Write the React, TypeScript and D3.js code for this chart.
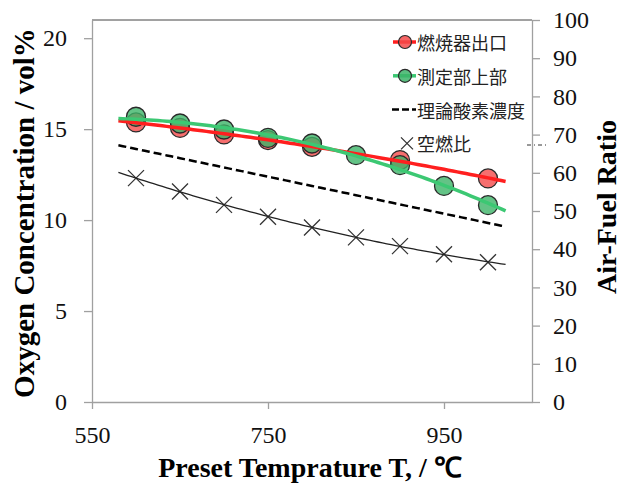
import * as d3 from 'd3';
import React, { useEffect, useRef } from 'react';

// preset temperature, deg C
const temps = [600, 650, 700, 750, 800, 850, 900, 950, 1000];
// oxygen concentration, vol%
const burnerOutlet = [15.37, 15.07, 14.71, 14.4, 14.03, null, 13.3, null, 12.29];
const measureTop = [15.68, 15.31, 14.98, 14.52, 14.21, 13.57, 13.02, 11.88, 10.82];
const theoreticalO2 = [13.9, 13.4, 12.9, 12.4, 11.9, 11.35, 10.85, 10.35, 9.85];
// air-fuel ratio (right axis)
const airFuel = [58.6, 55.1, 51.6, 48.5, 45.7, 43.1, 40.8, 38.7, 36.6];

const xTicks = [550, 750, 950];
const yTicks = [0, 5, 10, 15, 20];
const y2Ticks = [0, 10, 20, 30, 40, 50, 60, 70, 80, 90, 100];

const legendNames = ['燃焼器出口', '測定部上部', '理論酸素濃度', '空燃比'];

const W = 622, H = 483;
const margin = { top: 20, right: 90, bottom: 81, left: 92 };

// least squares polynomial (trendline like excel)
function polyfit(xs: number[], ys: number[], deg: number) {
  const n = deg + 1;
  const A = Array.from({ length: n }, () => new Array(n + 1).fill(0));
  xs.forEach((x0, k) => {
    const x = (x0 - 800) / 100;
    for (let i = 0; i < n; i++) {
      for (let j = 0; j < n; j++) A[i][j] += Math.pow(x, i + j);
      A[i][n] += ys[k] * Math.pow(x, i);
    }
  });
  for (let i = 0; i < n; i++) {
    let p = i;
    for (let r = i + 1; r < n; r++) if (Math.abs(A[r][i]) > Math.abs(A[p][i])) p = r;
    [A[i], A[p]] = [A[p], A[i]];
    for (let r = 0; r < n; r++) {
      if (r === i) continue;
      const f = A[r][i] / A[i][i];
      for (let c = i; c <= n; c++) A[r][c] -= f * A[i][c];
    }
  }
  const coef = A.map((row, i) => row[n] / row[i]);
  return (x0: number) => {
    const x = (x0 - 800) / 100;
    return coef.reduce((s, c, i) => s + c * Math.pow(x, i), 0);
  };
}

function pairs(vals: (number | null)[]) {
  return temps.map((t, i) => [t, vals[i]]).filter(d => d[1] != null) as [number, number][];
}

export default function App() {
  const ref = useRef<SVGSVGElement>(null);

  useEffect(() => {
    const svg = d3.select(ref.current);
    svg.selectAll('*').remove();

    const x = d3.scaleLinear().domain([550, 1050]).range([margin.left, W - margin.right]);
    const y = d3.scaleLinear().domain([0, 21]).range([H - margin.bottom, margin.top]);
    const y2 = d3.scaleLinear().domain([0, 100]).range([H - margin.bottom, margin.top]);

    const serif = '"Liberation Serif", "Times New Roman", serif';
    const axisCol = '#a0a0a0';

    // top border
    svg.append('line')
      .attr('x1', x(550)).attr('x2', x(1050))
      .attr('y1', margin.top).attr('y2', margin.top)
      .attr('stroke', '#444').attr('stroke-width', 1);

    const styleAxis = (g: any) => {
      g.selectAll('path, line').attr('stroke', axisCol).attr('stroke-width', 1.3);
      g.selectAll('text').attr('fill', '#111').style('font-family', serif).style('font-size', '24px');
    };

    svg.append('g')
      .attr('transform', `translate(0,${H - margin.bottom})`)
      .call(d3.axisBottom(x).tickValues(xTicks).tickSize(7).tickSizeOuter(0).tickPadding(17).tickFormat(d3.format('d')))
      .call(styleAxis);

    svg.append('g')
      .attr('transform', `translate(${margin.left},0)`)
      .call(d3.axisLeft(y).tickValues(yTicks).tickSize(8).tickSizeOuter(0).tickPadding(17))
      .call(styleAxis);

    svg.append('g')
      .attr('transform', `translate(${W - margin.right},0)`)
      .call(d3.axisRight(y2).tickValues(y2Ticks).tickSize(8).tickSizeOuter(0).tickPadding(13))
      .call(styleAxis);

    // axis titles
    svg.append('text')
      .attr('transform', 'translate(24,213) rotate(-90)')
      .attr('text-anchor', 'middle').attr('dominant-baseline', 'central')
      .style('font-family', serif).style('font-size', '29px').style('font-weight', 'bold')
      .text('Oxygen Concentration / vol%');
    svg.append('text')
      .attr('transform', 'translate(606,207) rotate(-90)')
      .attr('text-anchor', 'middle').attr('dominant-baseline', 'central')
      .style('font-family', serif).style('font-size', '28px').style('font-weight', 'bold')
      .text('Air-Fuel Ratio');
    svg.append('text')
      .attr('x', 310).attr('y', 477)
      .attr('text-anchor', 'middle')
      .style('font-family', serif).style('font-size', '28px').style('font-weight', 'bold')
      .text('Preset Temprature T, / ℃');

    const red = '#ff1f1f', green = '#3cc873';
    const trendX = d3.range(580, 1021, 5);

    // markers
    const circles = (data: [number, number][], fill: string) => {
      svg.append('g').selectAll('circle').data(data).enter().append('circle')
        .attr('cx', d => x(d[0])).attr('cy', d => y(d[1])).attr('r', 9.5)
        .attr('fill', fill).attr('fill-opacity', 0.8)
        .attr('stroke', '#2a2a2a').attr('stroke-width', 1.3);
    };
    circles(pairs(burnerOutlet), '#f44a4a');
    circles(pairs(measureTop), '#3cb468');

    const xs = pairs(airFuel);
    const xg = svg.append('g').selectAll('g').data(xs).enter().append('g')
      .attr('transform', d => `translate(${x(d[0])},${y2(d[1])})`);
    xg.append('path').attr('d', 'M-8,-8L8,8M-8,8L8,-8')
      .attr('stroke', '#333').attr('stroke-width', 1.3);

    // trendlines
    const trend = (data: [number, number][], deg: number, sc: any, col: string, w: number, dash?: string) => {
      const f = polyfit(data.map(d => d[0]), data.map(d => d[1]), deg);
      const line = d3.line<number>().x(t => x(t)).y(t => sc(f(t)));
      svg.append('path').datum(trendX).attr('d', line)
        .attr('fill', 'none').attr('stroke', col).attr('stroke-width', w)
        .attr('stroke-dasharray', dash || null);
    };
    trend(pairs(burnerOutlet), 2, y, red, 3.5);
    trend(pairs(measureTop), 2, y, green, 3.5);
    trend(pairs(theoreticalO2), 1, y, '#000', 2.5, '8,4');
    trend(xs, 2, y2, '#222', 1.3);

    // stray dash-dot mark near right axis
    svg.append('line')
      .attr('x1', 527).attr('x2', 547).attr('y1', 145).attr('y2', 145)
      .attr('stroke', '#333').attr('stroke-width', 1).attr('stroke-dasharray', '4,3,1,3');

    // legend
    const lg = svg.append('g');
    const ly = (i: number) => 42 + i * 33.8;
    legendNames.forEach((name, i) => {
      const g = lg.append('g').attr('transform', `translate(0,${ly(i)})`);
      if (i === 0 || i === 1) {
        g.append('line').attr('x1', 393).attr('x2', 416).attr('stroke', i === 0 ? red : green).attr('stroke-width', 3.5);
        g.append('circle').attr('cx', 405).attr('r', 6.5)
          .attr('fill', i === 0 ? '#f44a4a' : '#3cb468').attr('fill-opacity', 0.85)
          .attr('stroke', '#2a2a2a').attr('stroke-width', 1.2);
      } else if (i === 2) {
        g.append('line').attr('x1', 392).attr('x2', 416).attr('stroke', '#000').attr('stroke-width', 2.5)
          .attr('stroke-dasharray', '7,3');
      } else {
        g.append('path').attr('d', 'M401,-6L413,6M401,6L413,-6').attr('stroke', '#333').attr('stroke-width', 1.3);
      }
      g.append('text').attr('x', 417).attr('dominant-baseline', 'central')
        .style('font-family', '"Noto Sans CJK JP", sans-serif').style('font-size', '18px')
        .attr('fill', '#222').text(name);
    });
  }, []);

  return (
    <svg ref={ref} width={W} height={H} style={{ position: 'absolute', left: 0, top: 0, background: '#fff' }} />
  );
}
